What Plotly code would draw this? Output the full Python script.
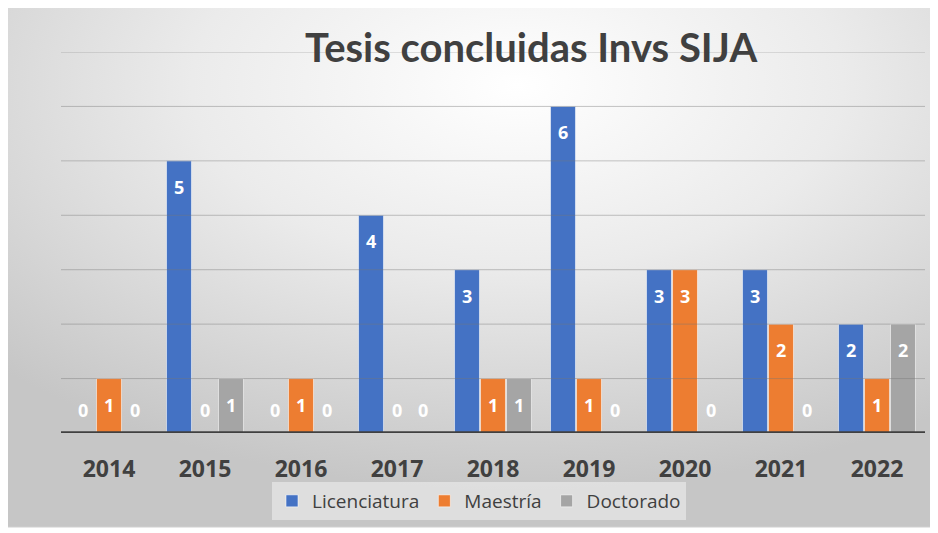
import plotly.graph_objects as go
import base64

years = ["2014", "2015", "2016", "2017", "2018", "2019", "2020", "2021", "2022"]
licenciatura = [0, 5, 0, 4, 3, 6, 3, 3, 2]
maestria = [1, 0, 1, 0, 1, 1, 3, 2, 1]
doctorado = [0, 1, 0, 0, 1, 0, 0, 0, 2]

series = [
    ("Licenciatura", licenciatura, "#4472C4"),
    ("Maestría", maestria, "#ED7D31"),
    ("Doctorado", doctorado, "#A5A5A5"),
]

OFF = 8  # page body margin
W, H = 938 - OFF, 533 - OFF
ML, MR, MT, MB = 61 - OFF, 13, 52 - OFF, 100
PW, PH = W - ML - MR, H - MT - MB
FONT = "Open Sans"


def px(x):  # page pixel -> paper
    return (x - OFF - ML) / PW


def py(y):
    return (H - MB - (y - OFF)) / PH


fig = go.Figure()
for name, vals, col in series:
    fig.add_trace(go.Bar(
        x=years, y=vals, name=name,
        marker=dict(color=col, line=dict(color="rgba(255,255,255,0.55)", width=1)),
        hoverinfo="x+y+name",
    ))

# data labels
annotations = []
slot = 26
for i, (name, vals, col) in enumerate(series):
    for j, v in enumerate(vals):
        annotations.append(dict(
            x=j, y=v, xref="x", yref="y", text=str(v), showarrow=False,
            xshift=(i - 1) * slot, yshift=(-26 if v > 0 else 23),
            font=dict(family=FONT, size=18, color="white", weight="bold"),
        ))

# title
annotations.append(dict(
    x=px(531), y=py(47), xref="paper", yref="paper", xanchor="center", yanchor="middle",
    text="<b>Tesis concluidas Invs SIJA</b>", showarrow=False,
    font=dict(family="Lato", size=40, color="#404040"),
))

# gradient background via SVG
svg = """<svg xmlns='http://www.w3.org/2000/svg' width='928' height='520' viewBox='0 0 928 520' preserveAspectRatio='none'>
<defs><radialGradient id='g' cx='0.55' cy='0.15' r='0.78' gradientUnits='objectBoundingBox'>
<stop offset='0' stop-color='#ffffff'/><stop offset='0.45' stop-color='#ebebeb'/><stop offset='1' stop-color='#c6c6c6'/>
</radialGradient></defs><rect width='928' height='520' fill='url(#g)'/></svg>"""
src = "data:image/svg+xml;base64," + base64.b64encode(svg.encode()).decode()

shapes = []
for g in range(1, 8):
    shapes.append(dict(type="line", xref="paper", yref="y", x0=0, x1=1, y0=g, y1=g,
                       line=dict(color="rgba(120,120,120,0.42)", width=1), layer="above"))
shapes.append(dict(type="line", xref="paper", yref="y", x0=0, x1=1, y0=0, y1=0,
                   line=dict(color="#404040", width=3.5), layer="above"))
shapes.append(dict(type="rect", xref="paper", yref="paper", x0=px(7), x1=px(935),
                   y0=py(527), y1=py(7), line=dict(color="#d0d0d0", width=1), layer="below"))

fig.update_layout(
    width=W, height=H,
    margin=dict(l=ML, r=MR, t=MT, b=MB),
    paper_bgcolor="white", plot_bgcolor="rgba(0,0,0,0)",
    barmode="group", bargap=0.1875, bargroupgap=0.04,
    showlegend=True,
    legend=dict(orientation="h", x=px(479), xanchor="center", y=py(482), yanchor="top",
                bgcolor="rgba(238,238,238,0.6)", borderwidth=0,
                font=dict(family=FONT, size=19, color="#404040"),
                itemwidth=30, traceorder="normal"),
    images=[dict(source=src, xref="paper", yref="paper", x=px(7), y=py(7),
                 sizex=928 / PW, sizey=520 / PH, sizing="stretch", layer="below",
                 xanchor="left", yanchor="top")],
    shapes=shapes,
    annotations=annotations,
    xaxis=dict(type="category", showgrid=False, showline=False, ticks="",
               tickfont=dict(family=FONT, size=23, color="#404040", weight="bold"),
               ticklabelstandoff=20),
    yaxis=dict(range=[0, 7], showgrid=False, showticklabels=False, zeroline=False, showline=False),
)

fig.write_html("out.html")
